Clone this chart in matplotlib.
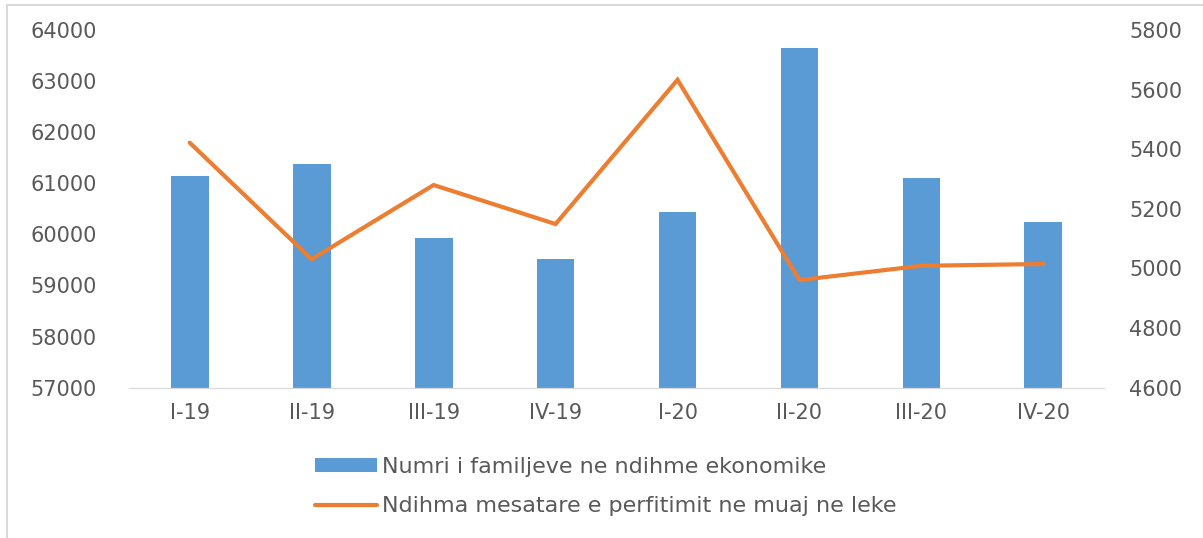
import matplotlib.pyplot as plt
from matplotlib.lines import Line2D

# quarters
quarters = ["I-19", "II-19", "III-19", "IV-19", "I-20", "II-20", "III-20", "IV-20"]
# number of families in economic aid (left axis)
families = [61150, 61370, 59920, 59520, 60440, 63650, 61110, 60250]
# average monthly benefit in leke (right axis)
avg_benefit = [5422, 5031, 5280, 5149, 5633, 4961, 5009, 5015]

bar_label = "Numri i familjeve ne ndihme ekonomike"
line_label = "Ndihma mesatare e perfitimit ne muaj ne leke"

text_color = "#595959"
plt.rcParams['font.family'] = ['DejaVu Sans']

fig = plt.figure(figsize=(12.03, 5.38), dpi=100)
ax = fig.add_axes([0.107, 0.2794, 0.811, 0.6648])
ax2 = ax.twinx()

x = range(len(quarters))
bars = ax.bar(x, families, width=0.31, color="#5B9BD5", zorder=2)
line, = ax2.plot(x, avg_benefit, color="#ED7D31", linewidth=3.0,
                 solid_joinstyle='miter', solid_capstyle='round', zorder=3)

ax.set_ylim(57000, 64000)
ax.set_yticks(range(57000, 64001, 1000))
ax2.set_ylim(4600, 5800)
ax2.set_yticks(range(4600, 5801, 200))
ax.set_xlim(-0.5, len(quarters) - 0.5)
ax.set_xticks(list(x))
ax.set_xticklabels(quarters)

# keep the line above the bars
ax.set_zorder(1)
ax2.set_zorder(2)
ax2.patch.set_visible(False)

for a in (ax, ax2):
    for side in ("top", "left", "right"):
        a.spines[side].set_visible(False)
    a.spines["bottom"].set_color("#D9D9D9")
    a.tick_params(length=0, labelsize=15, labelcolor=text_color)

ax.tick_params(axis='y', pad=23)
ax2.tick_params(axis='y', pad=18)
ax.tick_params(axis='x', pad=11)

# legend below the plot
fig.legend([bars, line], [bar_label, line_label],
           loc='center left', bbox_to_anchor=(315 / 1203, 1 - 486.5 / 538),
           frameon=False, fontsize=16, labelcolor=text_color,
           handlelength=2.8, handleheight=0.55, handletextpad=0.22,
           labelspacing=0.88, borderpad=0, borderaxespad=0)

# light frame on the left and top edges
fig.add_artist(Line2D([7 / 1203, 7 / 1203], [0, 1 - 5 / 538], color="#D9D9D9", lw=1.5))
fig.add_artist(Line2D([7 / 1203, 1], [1 - 5 / 538, 1 - 5 / 538], color="#D9D9D9", lw=1.5))

fig.savefig("out.png", dpi=100)
